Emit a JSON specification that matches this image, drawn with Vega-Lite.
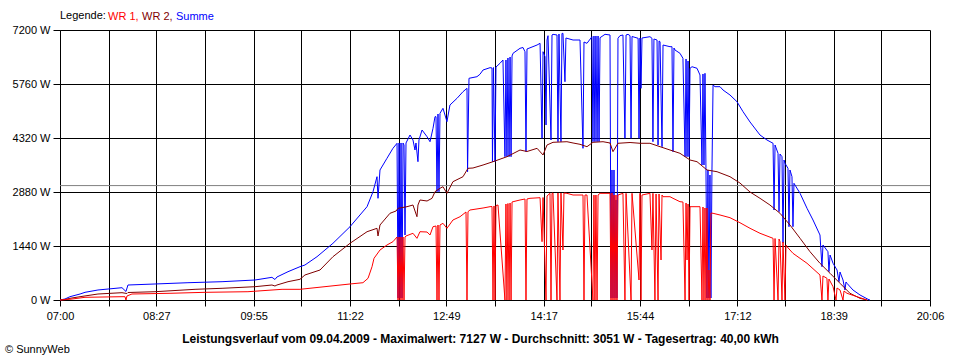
{
  "$schema": "https://vega.github.io/schema/vega-lite/v6.json",
  "width": 870,
  "height": 270,
  "autosize": {"type": "none"},
  "padding": {"left": 60, "top": 30, "right": 30, "bottom": 60},
  "background": "white",
  "config": {
    "font": "Liberation Sans",
    "view": {"stroke": null},
    "axis": {"domainColor": "black", "tickColor": "black", "gridColor": "black", "gridOpacity": 1, "gridWidth": 1, "tickWidth": 1, "domainWidth": 1, "labelColor": "black", "labelFontSize": 11, "labelFont": "Liberation Sans", "titleColor": "black", "titleFont": "Liberation Sans"},
    "legend": {"orient": "none", "legendX": 0, "legendY": -19, "direction": "horizontal", "titleOrient": "left", "titleFontSize": 11, "titleFontWeight": "normal", "titleColor": "black", "titleFont": "Liberation Sans", "titlePadding": -1, "labelFontSize": 11, "labelFont": "Liberation Sans", "symbolSize": 0, "symbolOpacity": 0, "symbolStrokeWidth": 0, "labelOffset": -8, "columnPadding": 0}
  },
  "title": {"text": "© SunnyWeb", "orient": "bottom", "anchor": "start", "frame": "group", "dx": -55, "offset": 0, "fontSize": 11, "fontWeight": "normal", "color": "black", "font": "Liberation Sans"},
  "datasets": {
    "avg": [{"t": 420, "v": 3051}, {"t": 1206, "v": 3051}],
    "sum": [
      {"t": 420, "v": 0}, {"t": 424.5, "v": 27}, {"t": 429.0, "v": 88}, {"t": 438.1, "v": 160}, {"t": 442.6, "v": 205}, {"t": 454.3, "v": 267}, {"t": 476.0, "v": 328}, {"t": 479.6, "v": 227}, {"t": 481.4, "v": 400}, {"t": 505.8, "v": 427}, {"t": 535.6, "v": 461}, {"t": 566.4, "v": 488}, {"t": 596.2, "v": 533}, {"t": 611.5, "v": 605}, {"t": 614.2, "v": 547}, {"t": 616.0, "v": 613}, {"t": 626.0, "v": 755}, {"t": 636.8, "v": 888}, {"t": 641.3, "v": 933}, {"t": 652.2, "v": 1155}, {"t": 666.6, "v": 1512}, {"t": 682.0, "v": 1955}, {"t": 697.4, "v": 2488}, {"t": 702.8, "v": 2888}, {"t": 706.4, "v": 3288}, {"t": 707.3, "v": 2712}, {"t": 709.1, "v": 3467}, {"t": 715.4, "v": 3779}, {"t": 720.8, "v": 4045}, {"t": 724.5, "v": 4179},
      {"t": 725.4, "v": 53}, {"t": 726.3, "v": 4187}, {"t": 727.2, "v": 53}, {"t": 728.1, "v": 4187}, {"t": 729.0, "v": 53}, {"t": 729.9, "v": 4187}, {"t": 730.8, "v": 4133}, {"t": 731.7, "v": 1733}, {"t": 732.6, "v": 4187}, {"t": 736.2, "v": 4400}, {"t": 738.9, "v": 4267}, {"t": 740.7, "v": 4000}, {"t": 741.6, "v": 4187}, {"t": 743.4, "v": 3688}, {"t": 744.3, "v": 4267}, {"t": 747.1, "v": 4533}, {"t": 751.6, "v": 4355}, {"t": 754.3, "v": 4221}, {"t": 757.0, "v": 4579}, {"t": 758.8, "v": 4888}, {"t": 759.7, "v": 4888}, {"t": 760.6, "v": 2888}, {"t": 761.5, "v": 4960}, {"t": 762.4, "v": 2888}, {"t": 763.3, "v": 4979}, {"t": 766.0, "v": 5112}, {"t": 769.6, "v": 4755}, {"t": 772.3, "v": 5200}, {"t": 778.7, "v": 5379}, {"t": 784.1, "v": 5555}, {"t": 787.7, "v": 5645}, {"t": 788.2, "v": 3421}, {"t": 789.5, "v": 5912}, {"t": 796.7, "v": 5955}, {"t": 799.4, "v": 6019}, {"t": 802.2, "v": 6133}, {"t": 808.5, "v": 6195}, {"t": 810.3, "v": 6187}, {"t": 810.7, "v": 3688}, {"t": 811.6, "v": 6200}, {"t": 813.0, "v": 3688}, {"t": 813.9, "v": 6213}, {"t": 817.5, "v": 6312}, {"t": 820.2, "v": 6400},
      {"t": 822.0, "v": 3821}, {"t": 822.9, "v": 6400}, {"t": 823.8, "v": 3821}, {"t": 824.7, "v": 6453}, {"t": 825.7, "v": 3821}, {"t": 826.6, "v": 6480}, {"t": 827.5, "v": 3821}, {"t": 828.4, "v": 6507}, {"t": 829.3, "v": 6579}, {"t": 835.6, "v": 6712}, {"t": 838.3, "v": 6733}, {"t": 840.1, "v": 6621}, {"t": 841.0, "v": 3955}, {"t": 841.9, "v": 6693}, {"t": 851.0, "v": 6800}, {"t": 853.7, "v": 6845}, {"t": 855.5, "v": 4312}, {"t": 856.4, "v": 6621}, {"t": 858.2, "v": 6488}, {"t": 859.1, "v": 4667}, {"t": 860.0, "v": 6933}, {"t": 860.9, "v": 7048}, {"t": 863.6, "v": 4267}, {"t": 864.5, "v": 7067}, {"t": 865.4, "v": 7085}, {"t": 869.0, "v": 7067}, {"t": 869.9, "v": 4221}, {"t": 870.8, "v": 7093}, {"t": 872.6, "v": 4221}, {"t": 873.5, "v": 7107}, {"t": 874.4, "v": 7112}, {"t": 876.2, "v": 5821}, {"t": 877.1, "v": 6987}, {"t": 878.0, "v": 6979}, {"t": 883.5, "v": 6933}, {"t": 889.8, "v": 6933}, {"t": 892.5, "v": 4045}, {"t": 893.4, "v": 6880}, {"t": 896.1, "v": 6845}, {"t": 900.6, "v": 7021}, {"t": 901.5, "v": 4221}, {"t": 902.4, "v": 7040}, {"t": 903.3, "v": 4221}, {"t": 904.2, "v": 7040}, {"t": 905.2, "v": 4221}, {"t": 906.1, "v": 7040}, {"t": 907.0, "v": 4221}, {"t": 907.9, "v": 6995}, {"t": 912.4, "v": 7085}, {"t": 916.9, "v": 7067},
      {"t": 917.8, "v": 53}, {"t": 918.7, "v": 3467}, {"t": 919.6, "v": 53}, {"t": 920.5, "v": 3467}, {"t": 921.4, "v": 53}, {"t": 922.3, "v": 2667}, {"t": 923.2, "v": 53}, {"t": 924.1, "v": 6979}, {"t": 925.9, "v": 7048}, {"t": 928.6, "v": 7067}, {"t": 930.4, "v": 4312}, {"t": 931.4, "v": 7067}, {"t": 933.2, "v": 7085}, {"t": 935.0, "v": 7048}, {"t": 935.9, "v": 4312}, {"t": 936.8, "v": 7027}, {"t": 942.3, "v": 6979}, {"t": 943.1, "v": 4312}, {"t": 944.0, "v": 6987}, {"t": 944.9, "v": 5645}, {"t": 945.8, "v": 6987}, {"t": 953.0, "v": 7021}, {"t": 954.8, "v": 6979}, {"t": 955.7, "v": 4221}, {"t": 956.6, "v": 6960}, {"t": 959.4, "v": 6933}, {"t": 960.3, "v": 4133}, {"t": 961.2, "v": 6907}, {"t": 962.1, "v": 6888}, {"t": 963.9, "v": 4088}, {"t": 964.8, "v": 6800}, {"t": 971.1, "v": 6755}, {"t": 972.9, "v": 6755}, {"t": 973.8, "v": 3955}, {"t": 974.7, "v": 6720}, {"t": 975.6, "v": 6667}, {"t": 980.1, "v": 6579}, {"t": 982.8, "v": 6445}, {"t": 984.7, "v": 3821}, {"t": 985.6, "v": 6427}, {"t": 986.5, "v": 3821}, {"t": 987.4, "v": 6373}, {"t": 988.3, "v": 3821}, {"t": 989.2, "v": 6179}, {"t": 991.0, "v": 6221}, {"t": 995.5, "v": 6179}, {"t": 998.2, "v": 6000}, {"t": 1000.0, "v": 3600}, {"t": 1000.9, "v": 6027}, {"t": 1001.8, "v": 3600}, {"t": 1002.7, "v": 6045}, {"t": 1003.6, "v": 3467}, {"t": 1004.5, "v": 53}, {"t": 1005.4, "v": 3467}, {"t": 1006.3, "v": 53}, {"t": 1007.2, "v": 3333}, {"t": 1008.1, "v": 53}, {"t": 1009.0, "v": 3413}, {"t": 1010.0, "v": 5733}, {"t": 1011.8, "v": 5688}, {"t": 1016.3, "v": 5688}, {"t": 1019.0, "v": 5600}, {"t": 1025.3, "v": 5467}, {"t": 1031.6, "v": 5288}, {"t": 1037.1, "v": 5021}, {"t": 1043.4, "v": 4747}, {"t": 1052.4, "v": 4400}, {"t": 1058.7, "v": 4267},
      {"t": 1064.2, "v": 4179}, {"t": 1065.1, "v": 2400}, {"t": 1066.0, "v": 4133}, {"t": 1068.7, "v": 3912}, {"t": 1069.6, "v": 2355}, {"t": 1070.5, "v": 3893}, {"t": 1072.3, "v": 3821}, {"t": 1073.2, "v": 1520}, {"t": 1074.1, "v": 3733}, {"t": 1075.0, "v": 3645}, {"t": 1077.7, "v": 3512}, {"t": 1078.6, "v": 1955}, {"t": 1079.5, "v": 3467}, {"t": 1081.3, "v": 3288}, {"t": 1082.2, "v": 1955}, {"t": 1083.1, "v": 3112}, {"t": 1088.6, "v": 2845}, {"t": 1094.9, "v": 2445}, {"t": 1100.3, "v": 2133}, {"t": 1106.6, "v": 1733}, {"t": 1108.4, "v": 888}, {"t": 1109.3, "v": 1467}, {"t": 1113.8, "v": 1288}, {"t": 1114.7, "v": 755}, {"t": 1115.7, "v": 1200}, {"t": 1118.4, "v": 979}, {"t": 1122.0, "v": 800}, {"t": 1123.8, "v": 488}, {"t": 1124.7, "v": 747}, {"t": 1127.4, "v": 533}, {"t": 1129.2, "v": 267}, {"t": 1130.1, "v": 480}, {"t": 1131.0, "v": 445}, {"t": 1136.4, "v": 267}, {"t": 1142.8, "v": 133}, {"t": 1150.0, "v": 19}, {"t": 1151.8, "v": 0}
    ],
    "wr2": [
      {"t": 420, "v": 0}, {"t": 424.5, "v": 13}, {"t": 429.0, "v": 45}, {"t": 438.1, "v": 88}, {"t": 454.3, "v": 160}, {"t": 476.0, "v": 195}, {"t": 480.5, "v": 173}, {"t": 481.4, "v": 200}, {"t": 505.8, "v": 221}, {"t": 542.0, "v": 285}, {"t": 566.4, "v": 312}, {"t": 596.2, "v": 355}, {"t": 611.5, "v": 400}, {"t": 614.2, "v": 373}, {"t": 616.0, "v": 400}, {"t": 626.0, "v": 488}, {"t": 636.8, "v": 552}, {"t": 641.3, "v": 667}, {"t": 654.9, "v": 800}, {"t": 666.6, "v": 1155}, {"t": 682.0, "v": 1512}, {"t": 697.4, "v": 1821}, {"t": 706.4, "v": 1912}, {"t": 707.3, "v": 1707}, {"t": 709.1, "v": 2000}, {"t": 718.1, "v": 2312}, {"t": 723.6, "v": 2373}, {"t": 725.4, "v": 2445}, {"t": 733.5, "v": 2488}, {"t": 738.9, "v": 2533}, {"t": 742.5, "v": 2221}, {"t": 743.4, "v": 2533}, {"t": 745.2, "v": 2667}, {"t": 751.6, "v": 2640}, {"t": 756.1, "v": 2712}, {"t": 758.8, "v": 2888}, {"t": 763.3, "v": 2979}, {"t": 766.0, "v": 3021}, {"t": 769.6, "v": 2845}, {"t": 775.0, "v": 3155}, {"t": 784.1, "v": 3288}, {"t": 788.6, "v": 3512}, {"t": 793.1, "v": 3520}, {"t": 802.2, "v": 3600}, {"t": 811.2, "v": 3688}, {"t": 823.8, "v": 3821}, {"t": 835.6, "v": 4000}, {"t": 841.9, "v": 3960}, {"t": 851.0, "v": 4045}, {"t": 856.4, "v": 3867}, {"t": 860.0, "v": 4133}, {"t": 865.4, "v": 4205}, {"t": 878.0, "v": 4221}, {"t": 883.5, "v": 4187}, {"t": 889.8, "v": 4152}, {"t": 896.1, "v": 4088}, {"t": 901.5, "v": 4205}, {"t": 910.6, "v": 4221}, {"t": 916.9, "v": 4187}, {"t": 919.6, "v": 3955}, {"t": 924.1, "v": 4179}, {"t": 935.0, "v": 4200}, {"t": 944.0, "v": 4179}, {"t": 953.0, "v": 4179}, {"t": 962.1, "v": 4088}, {"t": 971.1, "v": 4000}, {"t": 980.1, "v": 3912}, {"t": 989.2, "v": 3733}, {"t": 995.5, "v": 3688}, {"t": 1004.5, "v": 3467}, {"t": 1013.6, "v": 3421}, {"t": 1025.3, "v": 3288}, {"t": 1034.3, "v": 3120}, {"t": 1043.4, "v": 2880}, {"t": 1052.4, "v": 2712}, {"t": 1061.4, "v": 2533}, {"t": 1070.5, "v": 2312}, {"t": 1079.5, "v": 2000}, {"t": 1088.6, "v": 1645}, {"t": 1097.6, "v": 1288}, {"t": 1106.6, "v": 979}, {"t": 1115.7, "v": 712}, {"t": 1124.7, "v": 445}, {"t": 1133.7, "v": 179}, {"t": 1142.8, "v": 45}, {"t": 1149.1, "v": 0}
    ],
    "wr1": [
      {"t": 420, "v": 0}, {"t": 429.0, "v": 19}, {"t": 442.6, "v": 72}, {"t": 476.0, "v": 88}, {"t": 478.7, "v": 88}, {"t": 479.6, "v": 0}, {"t": 480.5, "v": 107}, {"t": 485.0, "v": 160}, {"t": 519.4, "v": 179}, {"t": 551.0, "v": 205}, {"t": 589.8, "v": 221}, {"t": 620.6, "v": 285}, {"t": 636.8, "v": 285}, {"t": 682.0, "v": 427}, {"t": 693.7, "v": 461}, {"t": 698.3, "v": 579}, {"t": 701.9, "v": 888}, {"t": 703.7, "v": 1112}, {"t": 709.1, "v": 1333}, {"t": 715.4, "v": 1467}, {"t": 720.8, "v": 1555}, {"t": 724.5, "v": 1680},
      {"t": 725.4, "v": 0}, {"t": 726.3, "v": 1680}, {"t": 727.2, "v": 0}, {"t": 728.1, "v": 1680}, {"t": 729.0, "v": 0}, {"t": 729.9, "v": 1680}, {"t": 730.8, "v": 0}, {"t": 731.7, "v": 1680}, {"t": 732.6, "v": 1707}, {"t": 738.9, "v": 1779}, {"t": 742.5, "v": 1645}, {"t": 745.2, "v": 1821}, {"t": 751.6, "v": 1813}, {"t": 754.3, "v": 1733}, {"t": 757.0, "v": 1955}, {"t": 759.7, "v": 1973}, {"t": 760.6, "v": 0}, {"t": 761.5, "v": 2000}, {"t": 762.4, "v": 0}, {"t": 763.3, "v": 2000}, {"t": 766.0, "v": 2045}, {"t": 769.6, "v": 1912}, {"t": 775.0, "v": 2133}, {"t": 781.4, "v": 2221}, {"t": 786.8, "v": 2347}, {"t": 787.7, "v": 0}, {"t": 788.6, "v": 2355}, {"t": 790.4, "v": 2400}, {"t": 802.2, "v": 2453}, {"t": 808.5, "v": 2488}, {"t": 810.3, "v": 2493}, {"t": 811.2, "v": 0}, {"t": 812.1, "v": 2507}, {"t": 813.0, "v": 0}, {"t": 813.9, "v": 2520}, {"t": 815.7, "v": 2533},
      {"t": 822.0, "v": 0}, {"t": 822.9, "v": 2560}, {"t": 823.8, "v": 0}, {"t": 824.7, "v": 2573}, {"t": 825.7, "v": 0}, {"t": 826.6, "v": 2587}, {"t": 827.5, "v": 0}, {"t": 828.4, "v": 2613}, {"t": 829.3, "v": 2621}, {"t": 835.6, "v": 2667}, {"t": 840.1, "v": 2693}, {"t": 841.0, "v": 0}, {"t": 841.9, "v": 2693}, {"t": 844.6, "v": 2712}, {"t": 853.7, "v": 2728}, {"t": 855.5, "v": 1555}, {"t": 856.4, "v": 2733}, {"t": 859.1, "v": 0}, {"t": 860.0, "v": 2773}, {"t": 862.7, "v": 2845}, {"t": 863.6, "v": 0}, {"t": 864.5, "v": 2845}, {"t": 865.4, "v": 2853}, {"t": 869.0, "v": 0}, {"t": 869.9, "v": 2853}, {"t": 871.7, "v": 0}, {"t": 872.6, "v": 2853}, {"t": 874.4, "v": 1333}, {"t": 875.3, "v": 2853}, {"t": 878.0, "v": 2845}, {"t": 883.5, "v": 2800}, {"t": 892.5, "v": 2800}, {"t": 893.4, "v": 0}, {"t": 894.3, "v": 2800}, {"t": 896.1, "v": 2800}, {"t": 901.5, "v": 0}, {"t": 902.4, "v": 2800}, {"t": 903.3, "v": 0}, {"t": 904.2, "v": 2800}, {"t": 905.2, "v": 0}, {"t": 906.1, "v": 2800}, {"t": 907.9, "v": 2845}, {"t": 916.9, "v": 2845},
      {"t": 917.8, "v": 0}, {"t": 918.7, "v": 2853}, {"t": 919.6, "v": 0}, {"t": 920.5, "v": 2800}, {"t": 921.4, "v": 0}, {"t": 922.3, "v": 2800}, {"t": 923.2, "v": 0}, {"t": 924.1, "v": 2800}, {"t": 928.6, "v": 2845}, {"t": 930.4, "v": 0}, {"t": 931.4, "v": 2845}, {"t": 935.9, "v": 0}, {"t": 936.8, "v": 2845}, {"t": 943.1, "v": 533}, {"t": 944.0, "v": 2845}, {"t": 944.9, "v": 0}, {"t": 945.8, "v": 2800}, {"t": 953.0, "v": 2845}, {"t": 954.8, "v": 1333}, {"t": 955.7, "v": 2845}, {"t": 957.5, "v": 0}, {"t": 958.5, "v": 2827}, {"t": 960.3, "v": 0}, {"t": 961.2, "v": 2827}, {"t": 963.0, "v": 1067}, {"t": 963.9, "v": 2800}, {"t": 964.8, "v": 2755}, {"t": 971.1, "v": 2755}, {"t": 973.8, "v": 2712}, {"t": 980.1, "v": 2621}, {"t": 982.8, "v": 2613}, {"t": 984.7, "v": 0}, {"t": 985.6, "v": 2587}, {"t": 986.5, "v": 1067}, {"t": 987.4, "v": 2560}, {"t": 988.3, "v": 0}, {"t": 989.2, "v": 2488}, {"t": 998.2, "v": 2488}, {"t": 1000.0, "v": 0}, {"t": 1000.9, "v": 2480}, {"t": 1001.8, "v": 0}, {"t": 1002.7, "v": 2453}, {"t": 1003.6, "v": 0}, {"t": 1004.5, "v": 2453}, {"t": 1005.4, "v": 0}, {"t": 1006.3, "v": 800}, {"t": 1007.2, "v": 0}, {"t": 1008.1, "v": 2320}, {"t": 1010.0, "v": 2312}, {"t": 1016.3, "v": 2267}, {"t": 1025.3, "v": 2195}, {"t": 1034.3, "v": 2061}, {"t": 1043.4, "v": 1912}, {"t": 1052.4, "v": 1779},
      {"t": 1064.2, "v": 1645}, {"t": 1065.1, "v": 0}, {"t": 1066.0, "v": 1640}, {"t": 1068.7, "v": 0}, {"t": 1069.6, "v": 1627}, {"t": 1070.5, "v": 1555}, {"t": 1072.3, "v": 0}, {"t": 1073.2, "v": 1547}, {"t": 1075.0, "v": 0}, {"t": 1075.9, "v": 1467}, {"t": 1076.8, "v": 1421}, {"t": 1082.2, "v": 1245}, {"t": 1094.9, "v": 979}, {"t": 1106.6, "v": 667}, {"t": 1108.4, "v": 0}, {"t": 1109.3, "v": 640}, {"t": 1112.9, "v": 579}, {"t": 1113.8, "v": 0}, {"t": 1114.7, "v": 560}, {"t": 1118.4, "v": 355}, {"t": 1121.1, "v": 0}, {"t": 1122.0, "v": 320}, {"t": 1124.7, "v": 267}, {"t": 1127.4, "v": 0}, {"t": 1128.3, "v": 240}, {"t": 1131.0, "v": 179}, {"t": 1140.0, "v": 88}, {"t": 1149.1, "v": 0}
    ]
  },
  "encoding": {
    "x": {"field": "t", "type": "quantitative", "scale": {"domain": [420, 1206], "nice": false, "zero": false},
      "axis": {"values": [420, 464, 507, 551, 595, 638, 682, 726, 769, 813, 857, 900, 944, 988, 1032, 1075, 1119, 1162, 1206],
        "labelExpr": "indexof([420,507,595,682,769,857,944,1032,1119,1206], datum.value) >= 0 ? pad(floor(datum.value/60), 2, '0', 'left') + ':' + pad(datum.value % 60, 2, '0', 'left') : ''",
        "title": "Leistungsverlauf vom 09.04.2009 - Maximalwert: 7127 W - Durchschnitt: 3051 W - Tagesertrag: 40,00 kWh",
        "titleFontWeight": "bold", "titleFontSize": 12, "titleX": 420, "titleY": 38, "titleBaseline": "middle", "titleAlign": "center",
        "labelFlush": false, "labelOverlap": false, "labelBound": false, "tickSize": 6, "labelPadding": 4, "grid": true}},
    "y": {"field": "v", "type": "quantitative", "scale": {"domain": [0, 7200], "nice": false},
      "axis": {"values": [0, 1440, 2880, 4320, 5760, 7200], "labelExpr": "datum.value + ' W'", "title": null, "grid": true, "tickSize": 7, "labelPadding": 3, "labelFlush": false, "labelOverlap": false}}
  },
  "layer": [
    {"data": {"name": "avg"}, "mark": {"type": "line", "color": "#808080", "strokeWidth": 1}},
    {"data": {"name": "sum"}, "mark": {"type": "line", "strokeWidth": 1},
      "encoding": {"color": {"datum": "Summe", "type": "nominal", "scale": {"domain": ["WR 1", "WR 2", "Summe"], "range": ["#ff0000", "#800000", "#0000ff"]},
        "legend": {"title": "Legende:", "labelExpr": "datum.label == 'Summe' ? datum.label : datum.label + ','", "encode": {"labels": {"update": {"fill": {"signal": "datum.value == 'WR 1' ? '#ff0000' : datum.value == 'WR 2' ? '#800000' : '#0000ff'"}}}}}}}},
    {"data": {"name": "wr2"}, "mark": {"type": "line", "strokeWidth": 1},
      "encoding": {"color": {"datum": "WR 2", "type": "nominal", "scale": {"domain": ["WR 1", "WR 2", "Summe"], "range": ["#ff0000", "#800000", "#0000ff"]},
        "legend": {"title": "Legende:", "labelExpr": "datum.label == 'Summe' ? datum.label : datum.label + ','", "encode": {"labels": {"update": {"fill": {"signal": "datum.value == 'WR 1' ? '#ff0000' : datum.value == 'WR 2' ? '#800000' : '#0000ff'"}}}}}}}},
    {"data": {"name": "wr1"}, "mark": {"type": "line", "strokeWidth": 1},
      "encoding": {"color": {"datum": "WR 1", "type": "nominal", "scale": {"domain": ["WR 1", "WR 2", "Summe"], "range": ["#ff0000", "#800000", "#0000ff"]},
        "legend": {"title": "Legende:", "labelExpr": "datum.label == 'Summe' ? datum.label : datum.label + ','", "encode": {"labels": {"update": {"fill": {"signal": "datum.value == 'WR 1' ? '#ff0000' : datum.value == 'WR 2' ? '#800000' : '#0000ff'"}}}}}}}}
  ]
}
